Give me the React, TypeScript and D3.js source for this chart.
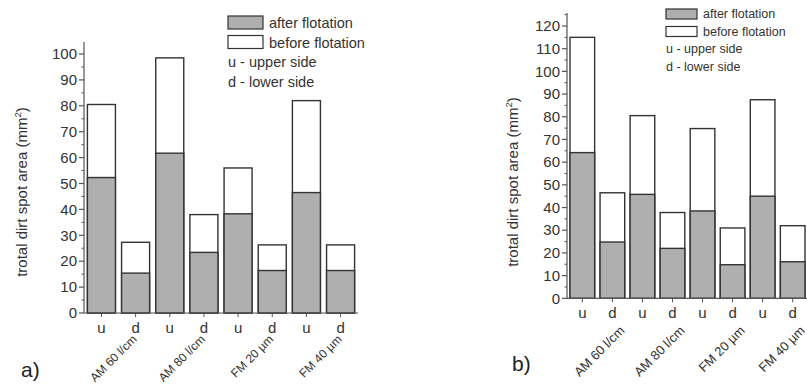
import * as d3 from 'd3';

// bar order: u, d for each sample
const sides = ['u', 'd', 'u', 'd', 'u', 'd', 'u', 'd'];
const samples = ['AM 60 l/cm', 'AM 80 l/cm', 'FM 20 \u00b5m', 'FM 40 \u00b5m'];

// panel a) values (mm²)
const beforeA = [80.5, 27.3, 98.5, 38, 56, 26.3, 82, 26.3];
const afterA = [52.3, 15.4, 61.7, 23.4, 38.3, 16.4, 46.5, 16.4];
const ticksA = d3.range(0, 101, 10);

// panel b) values (mm²)
const beforeB = [115, 46.5, 80.5, 37.8, 74.8, 31, 87.5, 32];
const afterB = [64.2, 24.8, 45.8, 22, 38.5, 14.8, 45, 16.1];
const ticksB = d3.range(0, 121, 10);

const legendItems = ['after flotation', 'before flotation'];
const noteItems = ['u - upper side', 'd - lower side'];

const FONT = 'Liberation Sans, Arial, sans-serif';
const FILL = '#afafaf';
const STROKE = '#333';
const AXIS = '#555';

type PanelProps = {
  before: number[];
  after: number[];
  ticks: number[];
  yMax: number;
  xRange: [number, number];
  yRange: [number, number]; // [pixel of 0, pixel of last tick]
  tickFont: number;
  labelFont: number;
  catFont: number;
  catDx: number;
  catDy: number;
  yLabelX: number;
  yLabelY: number;
  letter: string;
  letterX: number;
  letterY: number;
  legendX: number;
  legendY: number;
  legendFont: number;
  legendRow: number;
  boxW: number;
  boxH: number;
};

function Panel(p: PanelProps) {
  const idx = sides.map((_, i) => i);
  const x = d3.scaleBand<number>().domain(idx).range(p.xRange).paddingInner(0.18).paddingOuter(0.1);
  const lastTick = p.ticks[p.ticks.length - 1];
  const y = d3.scaleLinear().domain([0, lastTick]).range(p.yRange);
  const x0 = p.xRange[0];
  const y0 = y(0);
  const minor = d3.range(5, p.yMax, 10);

  return (
    <g fontFamily={FONT}>
      {/* bars: before flotation (total) outline, after flotation grey part */}
      {idx.map(i => (
        <g key={i}>
          <rect x={x(i)} y={y(p.before[i])} width={x.bandwidth()} height={y0 - y(p.before[i])}
            fill="#fff" stroke={STROKE} strokeWidth={1.4} />
          <rect x={x(i)} y={y(p.after[i])} width={x.bandwidth()} height={y0 - y(p.after[i])}
            fill={FILL} stroke={STROKE} strokeWidth={1.4} />
        </g>
      ))}

      {/* y axis */}
      <line x1={x0} x2={x0} y1={y0} y2={y(p.yMax)} stroke={AXIS} strokeWidth={1.2} />
      {p.ticks.map(t => (
        <g key={t}>
          <line x1={x0 - 5} x2={x0} y1={y(t)} y2={y(t)} stroke={AXIS} strokeWidth={1.2} />
          <text x={x0 - 7} y={y(t)} dy="0.35em" textAnchor="end" fontSize={p.tickFont} fill="#333">{t}</text>
        </g>
      ))}
      {minor.map(t => (
        <line key={t} x1={x0 - 2.5} x2={x0} y1={y(t)} y2={y(t)} stroke={AXIS} strokeWidth={1} />
      ))}

      {/* x axis */}
      <line x1={x0} x2={p.xRange[1]} y1={y0} y2={y0} stroke={AXIS} strokeWidth={1.2} />
      {idx.map(i => (
        <g key={i}>
          <line x1={x(i)! + x.bandwidth() / 2} x2={x(i)! + x.bandwidth() / 2} y1={y0} y2={y0 + 4} stroke={AXIS} />
          <text x={x(i)! + x.bandwidth() / 2} y={y0 + 20} textAnchor="middle" fontSize={p.tickFont} fill="#333">{sides[i]}</text>
        </g>
      ))}
      {samples.map((s, k) => {
        const cx = (x(2 * k)! + x(2 * k + 1)! + x.bandwidth()) / 2 + p.catDx;
        const cy = y0 + p.catDy;
        return (
          <text key={s} transform={`translate(${cx},${cy}) rotate(-45)`} textAnchor="end"
            fontSize={p.catFont} fill="#333">{s}</text>
        );
      })}

      {/* y label */}
      <text transform={`translate(${p.yLabelX},${p.yLabelY}) rotate(-90)`} textAnchor="middle"
        fontSize={p.labelFont} fill="#333">
        trotal dirt spot area (mm<tspan dy={-p.labelFont * 0.4} fontSize={p.labelFont * 0.65}>2</tspan>
        <tspan dy={p.labelFont * 0.4}>)</tspan>
      </text>

      {/* panel letter */}
      <text x={p.letterX} y={p.letterY} fontSize={21} fill="#222">{p.letter}</text>

      {/* legend */}
      {legendItems.map((l, k) => (
        <g key={l}>
          <rect x={p.legendX} y={p.legendY + k * p.legendRow - p.boxH + 1} width={p.boxW} height={p.boxH}
            fill={k === 0 ? FILL : '#fff'} stroke={STROKE} strokeWidth={1.2} />
          <text x={p.legendX + p.boxW + 6} y={p.legendY + k * p.legendRow} fontSize={p.legendFont} fill="#333">{l}</text>
        </g>
      ))}
      {noteItems.map((l, k) => (
        <text key={l} x={p.legendX} y={p.legendY + (k + 2) * p.legendRow} fontSize={p.legendFont} fill="#333">{l}</text>
      ))}
    </g>
  );
}

export default function App() {
  return (
    <svg width={807} height={387} style={{ position: 'absolute', left: 0, top: 0, background: '#fff' }}>
      <Panel before={beforeA} after={afterA} ticks={ticksA} yMax={104.6}
        xRange={[84, 358]} yRange={[313, 54]} tickFont={15} labelFont={15} catFont={12}
        catDx={19} catDy={27} yLabelX={27} yLabelY={192}
        letter="a)" letterX={21} letterY={377}
        legendX={228} legendY={28} legendFont={14.5} legendRow={19.5} boxW={35} boxH={13} />
      <Panel before={beforeB} after={afterB} ticks={ticksB} yMax={125.7}
        xRange={[567, 808]} yRange={[298.3, 26]} tickFont={15} labelFont={15} catFont={13}
        catDx={28} catDy={33} yLabelX={518} yLabelY={182}
        letter="b)" letterX={512} letterY={371}
        legendX={666} legendY={18} legendFont={12.5} legendRow={17.5} boxW={31} boxH={10} />
    </svg>
  );
}
